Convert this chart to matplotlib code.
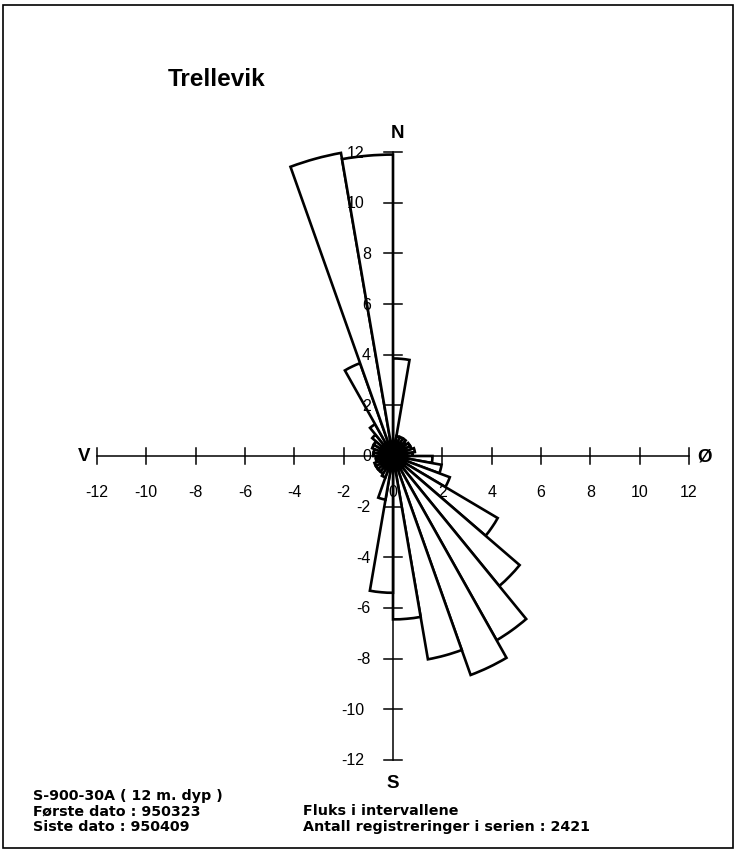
import matplotlib
matplotlib.use('Agg')
import matplotlib.pyplot as plt
from matplotlib.patches import Wedge, Rectangle

# ---- data ----
sector_start = list(range(0, 360, 10))          # bearing (deg, clockwise from N)
flux = [3.85, 0.8, 0.8, 0.8, 0.7, 0.8, 0.8, 0.9, 0.8,
        1.6, 2.0, 2.45, 4.9, 6.7, 8.4, 9.2, 8.15, 6.45,
        5.4, 1.75, 0.9, 0.8, 0.8, 0.8, 0.8, 0.7, 0.7,
        0.8, 0.8, 0.9, 0.9, 1.1, 1.45, 3.9, 12.15, 11.9]
sector_width = 10
tick_values = [-12, -10, -8, -6, -4, -2, 0, 2, 4, 6, 8, 10, 12]
tick_labels = [str(v) for v in tick_values]
title = "Trellevik"
left_lines = ["S-900-30A ( 12 m. dyp )", "Første dato : 950323", "Siste dato : 950409"]
right_lines = ["Fluks i intervallene", "Antall registreringer i serien : 2421"]

W, H = 735, 853
fig = plt.figure(figsize=(W / 100, H / 100), dpi=100)
fig.patch.set_facecolor('white')

ox, oy = 393, 457
sx, sy = 24.67, 25.33
lim = 13.5
ax = fig.add_axes([(ox - lim * sx) / W, (H - oy - lim * sy) / H,
                   2 * lim * sx / W, 2 * lim * sy / H])
ax.set_xlim(-lim, lim)
ax.set_ylim(-lim, lim)
ax.axis('off')

bold = ['Liberation Sans', 'DejaVu Sans']
wide = ['DejaVu Sans']
narrow = ['Liberation Sans Narrow', 'Liberation Sans', 'DejaVu Sans']

# wedges
for b, r in zip(sector_start, flux):
    ax.add_patch(Wedge((0, 0), r, 90 - b - sector_width, 90 - b,
                       facecolor='white', edgecolor='black', lw=1.9, zorder=2))

# axes lines
ax.plot([-12, 12], [0, 0], color='black', lw=1.1, zorder=3)
ax.plot([0, 0], [-12, 12], color='black', lw=1.1, zorder=3)
for v, lab in zip(tick_values, tick_labels):
    if v != 0:
        ax.plot([v, v], [-0.33, 0.33], color='black', lw=1.1, zorder=3)
        ax.plot([-0.36, 0.36], [v, v], color='black', lw=1.1, zorder=3)
    ax.text(v, -1.4, lab, ha='center', va='center', fontsize=11.5,
            family=narrow, zorder=5)
    ax.text(-0.9 - (0.25 if abs(v) >= 10 else 0), v, lab, ha='right', va='center',
            fontsize=11.5, family=narrow, zorder=5)

# compass letters
def px(x, y):
    return ((x - ox) / sx, (oy - y) / sy)

for (x, y), s in [((397, 133), "N"), ((393, 784), "S"), ((84, 457), "V"), ((705, 457), "Ø")]:
    ax.text(*px(x, y), s, ha='center', va='center', fontsize=13.5,
            fontweight='bold', family=bold)

# title and footer
fig.text(168 / W, 1 - 80 / H, title, ha='left', va='center', fontsize=17.5,
         fontweight='bold', family=bold)
for i, s in enumerate(left_lines):
    fig.text(33 / W, 1 - (796 + 15.5 * i) / H, s, ha='left', va='center',
             fontsize=10.3, fontweight='bold', family=wide)
for i, s in enumerate(right_lines):
    fig.text(303 / W, 1 - (811.5 + 15.5 * i) / H, s, ha='left', va='center',
             fontsize=10.3, fontweight='bold', family=wide)

# frame
fig.patches.append(Rectangle((3 / W, (H - 849) / H), (733 - 3) / W, (849 - 6) / H,
                             transform=fig.transFigure, fill=False,
                             edgecolor='black', lw=1.2))

fig.savefig('out.png', dpi=100)
